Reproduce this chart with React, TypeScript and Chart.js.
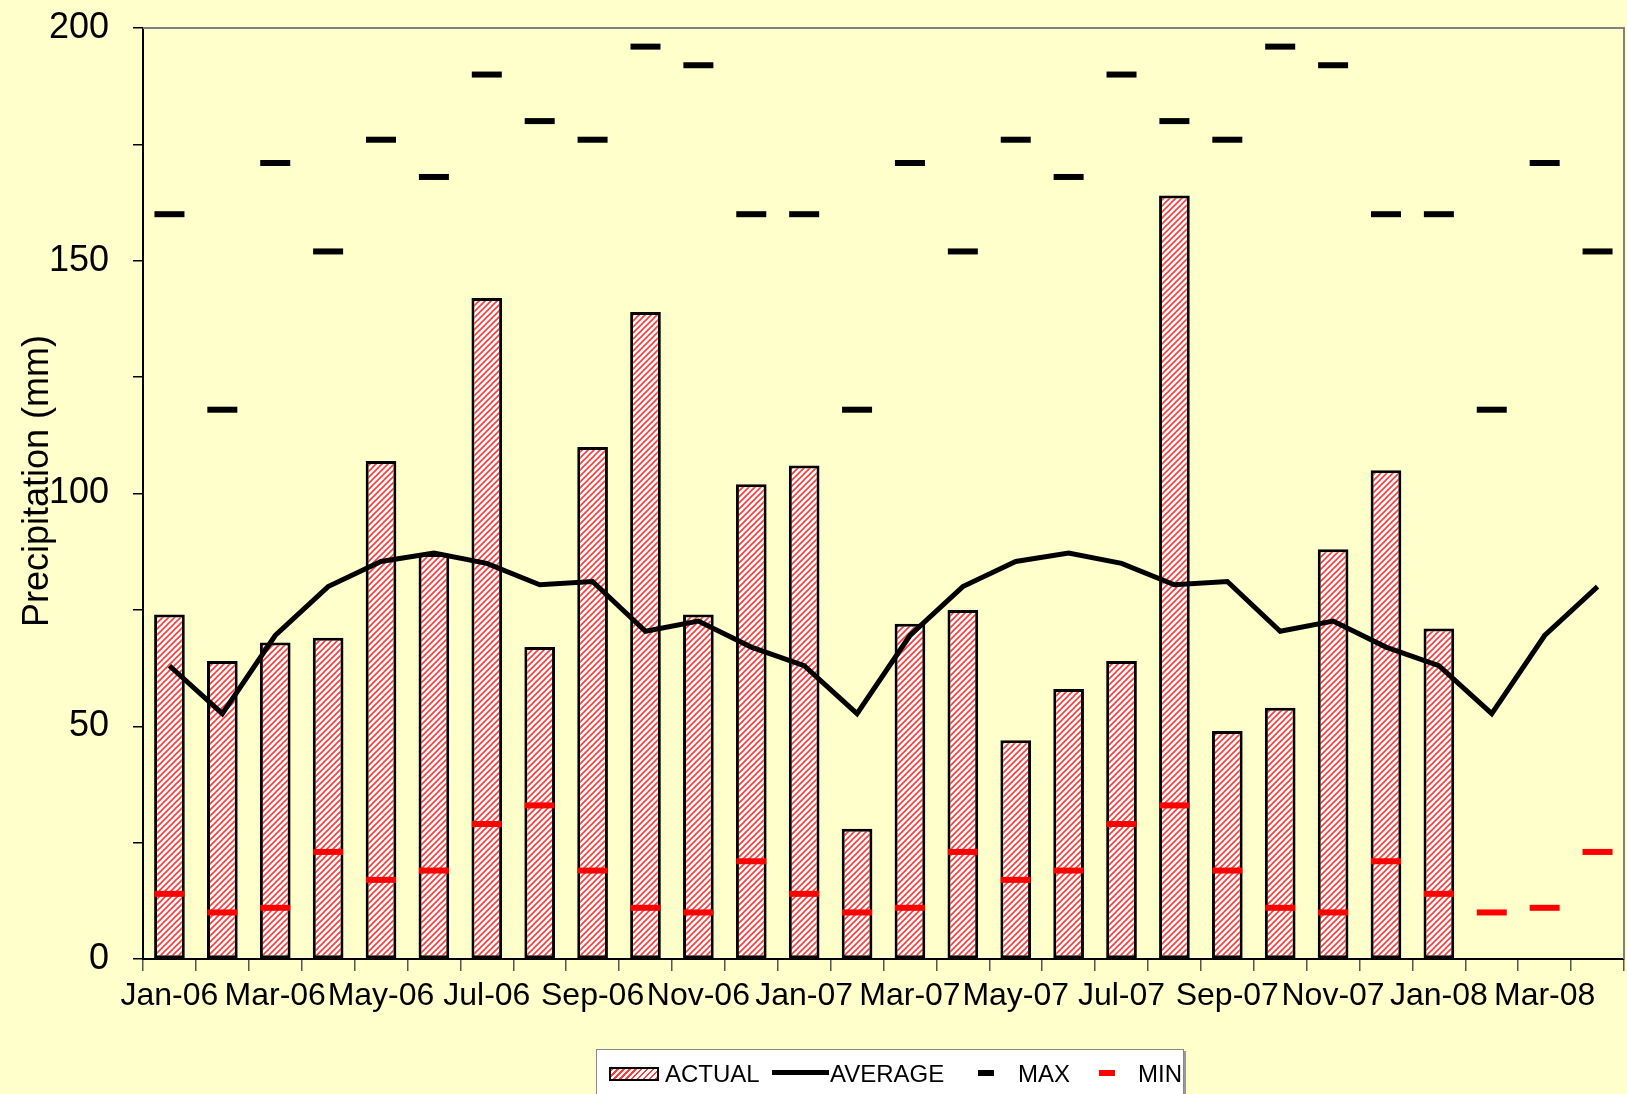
import React, { useEffect, useRef } from 'react';
import { Chart, registerables } from 'chart.js';

Chart.register(...registerables);

const labels = [
  'Jan-06', 'Feb-06', 'Mar-06', 'Apr-06', 'May-06', 'Jun-06', 'Jul-06', 'Aug-06', 'Sep-06', 'Oct-06', 'Nov-06', 'Dec-06',
  'Jan-07', 'Feb-07', 'Mar-07', 'Apr-07', 'May-07', 'Jun-07', 'Jul-07', 'Aug-07', 'Sep-07', 'Oct-07', 'Nov-07', 'Dec-07',
  'Jan-08', 'Feb-08', 'Mar-08', 'Apr-08',
];

const actual = [
  74, 64, 68, 69, 107, 87, 142, 67, 110, 139, 74, 102,
  106, 28, 72, 75, 47, 58, 64, 164, 49, 54, 88, 105,
  71, null, null, null,
];

const average = [
  63, 52.7, 69.5, 80, 85.4, 87.2, 85, 80.4, 81.1, 70.4, 72.6, 67,
  63, 52.7, 69.5, 80, 85.4, 87.2, 85, 80.4, 81.1, 70.4, 72.6, 67,
  63, 52.7, 69.5, 80,
];

const maxVals = [
  160, 118, 171, 152, 176, 168, 190, 180, 176, 196, 192, 160,
  160, 118, 171, 152, 176, 168, 190, 180, 176, 196, 192, 160,
  160, 118, 171, 152,
];

const minVals = [
  14, 10, 11, 23, 17, 19, 29, 33, 19, 11, 10, 21,
  14, 10, 11, 23, 17, 19, 29, 33, 19, 11, 10, 21,
  14, 10, 11, 23,
];

const yTicks = [0, 50, 100, 150, 200];

const FONT = '"Liberation Sans", Arial, sans-serif';

function makePattern(): CanvasPattern | string {
  const s = 6;
  const c = document.createElement('canvas');
  c.width = s;
  c.height = s;
  const g = c.getContext('2d');
  if (!g) return '#ff8080';
  g.fillStyle = '#ffffff';
  g.fillRect(0, 0, s, s);
  g.strokeStyle = '#ff3838';
  g.lineWidth = 1.6;
  g.beginPath();
  g.moveTo(-1, s + 1);
  g.lineTo(s + 1, -1);
  g.moveTo(-1, 1);
  g.lineTo(1, -1);
  g.moveTo(s - 1, s + 1);
  g.lineTo(s + 1, s - 1);
  g.stroke();
  const p = g.createPattern(c, 'repeat');
  return p || '#ff8080';
}

const framePlugin = {
  id: 'frame',
  beforeDatasetsDraw(chart: any) {
    const { ctx, chartArea } = chart;
    ctx.save();
    ctx.strokeStyle = '#808080';
    ctx.lineWidth = 2;
    ctx.beginPath();
    ctx.moveTo(chartArea.left, chartArea.top);
    ctx.lineTo(chartArea.right, chartArea.top);
    ctx.lineTo(chartArea.right, chartArea.bottom);
    ctx.stroke();
    ctx.restore();
  },
};

const yTitlePlugin = {
  id: 'yTitle',
  afterDraw(chart: any) {
    const { ctx } = chart;
    ctx.save();
    ctx.translate(38, 481);
    ctx.rotate(-Math.PI / 2);
    ctx.font = `36px ${FONT}`;
    ctx.fillStyle = '#000';
    ctx.textAlign = 'center';
    ctx.textBaseline = 'middle';
    ctx.fillText('Precipitation (mm)', 0, 0);
    ctx.restore();
  },
};

export default function App() {
  const ref = useRef<HTMLCanvasElement | null>(null);

  useEffect(() => {
    if (!ref.current) return;
    const pattern = makePattern();
    const chart = new Chart(ref.current, {
      type: 'bar',
      data: {
        labels,
        datasets: [
          {
            type: 'bar',
            label: 'ACTUAL',
            data: actual as any,
            backgroundColor: pattern as any,
            borderColor: '#000',
            borderWidth: 3,
            borderSkipped: false,
            barPercentage: 0.58,
            categoryPercentage: 1,
            order: 4,
          },
          {
            type: 'line',
            label: 'AVERAGE',
            data: average,
            borderColor: '#000',
            borderWidth: 5,
            pointRadius: 0,
            tension: 0,
            order: 3,
          },
          {
            type: 'line',
            label: 'MAX',
            data: maxVals,
            showLine: false,
            pointStyle: 'line',
            pointRadius: 15,
            pointBorderWidth: 6,
            pointBorderColor: '#000',
            pointBackgroundColor: '#000',
            order: 1,
          },
          {
            type: 'line',
            label: 'MIN',
            data: minVals,
            showLine: false,
            pointStyle: 'line',
            pointRadius: 15,
            pointBorderWidth: 6,
            pointBorderColor: '#ff0000',
            pointBackgroundColor: '#ff0000',
            order: 2,
          },
        ] as any,
      },
      options: {
        animation: false,
        responsive: false,
        maintainAspectRatio: false,
        layout: { autoPadding: false, padding: { left: 0, top: 28, right: 3, bottom: 0 } },
        plugins: {
          legend: { display: false },
          tooltip: { enabled: false },
        },
        scales: {
          x: {
            grid: {
              display: true,
              drawOnChartArea: false,
              drawTicks: true,
              tickLength: 12,
              color: '#555',
              lineWidth: 1.5,
              offset: true,
            },
            border: { display: true, color: '#000', width: 2 },
            ticks: {
              autoSkip: false,
              maxRotation: 0,
              minRotation: 0,
              padding: 6,
              color: '#000',
              font: { size: 32, family: FONT },
              callback: (_v: any, i: number) => (i % 2 === 0 ? labels[i] : ''),
            },
            afterFit: (s: any) => {
              s.height = 135;
              s.paddingLeft = 0;
              s.paddingRight = 0;
            },
          },
          y: {
            min: 0,
            max: 200,
            grid: {
              display: true,
              drawOnChartArea: false,
              drawTicks: true,
              tickLength: 10,
              color: '#000',
              lineWidth: 1.5,
            },
            border: { display: true, color: '#000', width: 2 },
            ticks: {
              stepSize: 25,
              padding: 24,
              color: '#000',
              font: { size: 36, family: FONT },
              callback: (v: any) => (yTicks.includes(Number(v)) ? String(v) : ''),
            },
            afterFit: (s: any) => {
              s.width = 143;
              s.paddingTop = 0;
              s.paddingBottom = 0;
            },
          },
        },
      } as any,
      plugins: [framePlugin, yTitlePlugin],
    });
    return () => chart.destroy();
  }, []);

  const text: React.CSSProperties = {
    position: 'absolute',
    top: 10,
    fontFamily: FONT,
    fontSize: 24,
    lineHeight: '28px',
    color: '#000',
    whiteSpace: 'nowrap',
  };

  return (
    <div
      style={{
        position: 'absolute',
        left: 0,
        top: 0,
        width: 1627,
        height: 1094,
        background: '#FFFFCC',
        overflow: 'hidden',
      }}
    >
      <canvas ref={ref} width={1627} height={1094} style={{ display: 'block' }} />
      <div
        style={{
          position: 'absolute',
          left: 596,
          top: 1049,
          width: 586,
          height: 60,
          background: '#ffffff',
          border: '1px solid #888',
          boxShadow: '2px 2px 0 #999',
        }}
      >
        <div
          style={{
            position: 'absolute',
            left: 12,
            top: 17,
            width: 46,
            height: 10,
            border: '2px solid #000',
            background: 'repeating-linear-gradient(135deg, #ff3838 0 1.6px, #ffffff 1.6px 4.2px)',
          }}
        />
        <div style={{ ...text, left: 68 }}>ACTUAL</div>
        <div style={{ position: 'absolute', left: 175, top: 20, width: 57, height: 5, background: '#000' }} />
        <div style={{ ...text, left: 233 }}>AVERAGE</div>
        <div style={{ position: 'absolute', left: 381, top: 20, width: 16, height: 6, background: '#000' }} />
        <div style={{ ...text, left: 421 }}>MAX</div>
        <div style={{ position: 'absolute', left: 502, top: 20, width: 16, height: 6, background: '#ff0000' }} />
        <div style={{ ...text, left: 541 }}>MIN</div>
      </div>
    </div>
  );
}
